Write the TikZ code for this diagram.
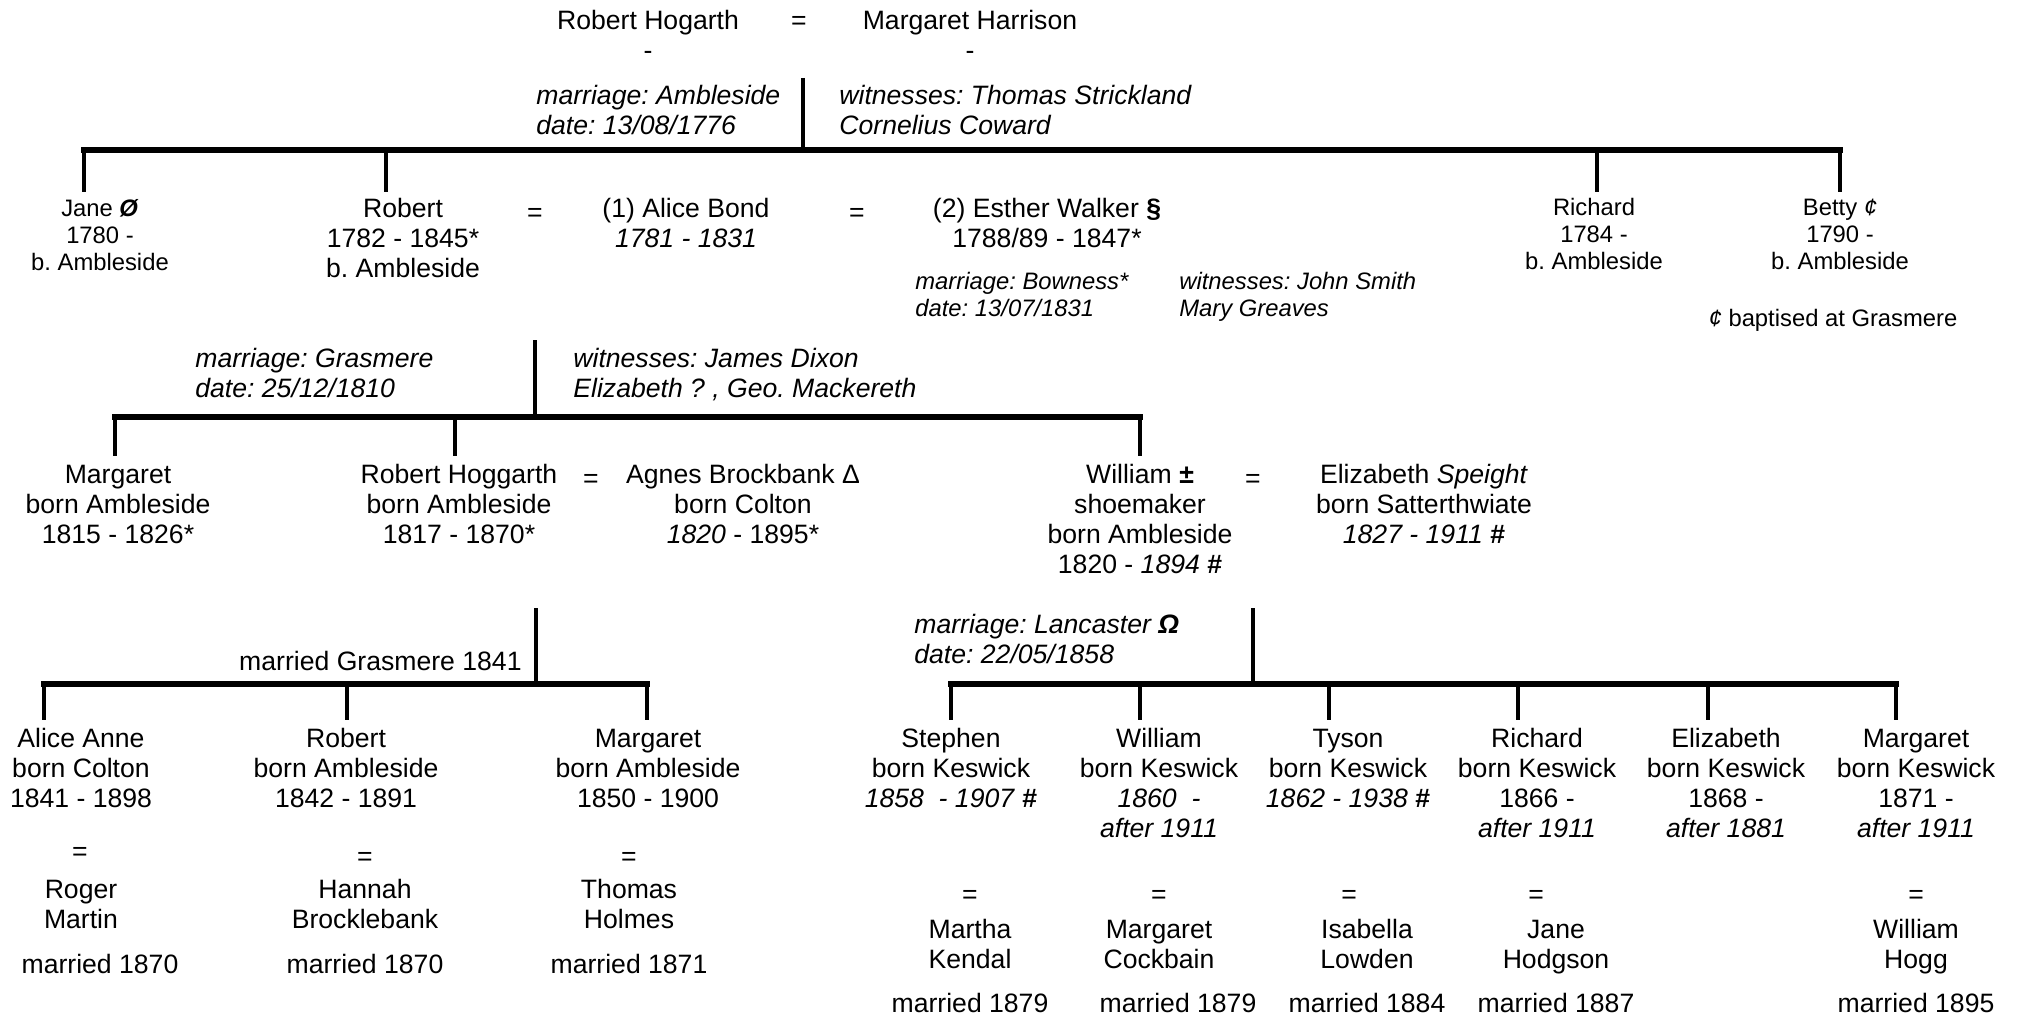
\documentclass[tikz,border=0pt]{standalone}
\usepackage{fontspec}
\setmainfont{Liberation Sans}
\frenchspacing
\newcommand{\nsz}{\fontsize{13.3pt}{15pt}\selectfont}
\newcommand{\ssz}{\fontsize{11.9pt}{13.3pt}\selectfont}
\newcommand{\ctab}[1]{\begin{tabular}[t]{@{}c@{}}#1\end{tabular}}
\newcommand{\ltab}[1]{\begin{tabular}[t]{@{}l@{}}#1\end{tabular}}
\tikzset{
  lbl/.style={inner sep=0pt, anchor=base, font=\nsz},
  slbl/.style={inner sep=0pt, anchor=base, font=\ssz},
  notelbl/.style={inner sep=0pt, anchor=base west, font=\nsz\itshape},
  snotelbl/.style={inner sep=0pt, anchor=base west, font=\ssz\itshape},
  bar/.style={line width=3pt, line cap=rect},
  drop/.style={line width=2.25pt},
}
\begin{document}
\begin{tikzpicture}[x=0.5pt, y=-0.5pt]
\useasboundingbox (0,0) rectangle (2018,1016);

% ---------- generation 1 ----------
\node[lbl] (rh) at (648,30) {\ctab{Robert Hogarth\\-}};
\node[lbl] (eq0) at (799,30) {=};
\node[lbl] (mh) at (970,30) {\ctab{Margaret Harrison\\-}};
\node[notelbl] (m1) at (536,105) {\ltab{marriage: Ambleside\\date: 13/08/1776}};
\node[notelbl] (w1) at (839,105) {\ltab{witnesses: Thomas Strickland\\Cornelius Coward}};

\coordinate (f1top) at (803,78);
\coordinate (f1bar) at (803,150);
\coordinate (f1L) at (84,150);
\coordinate (f1R) at (1840,150);
\coordinate (d1a) at (84,192);
\coordinate (d1b) at (386,192);
\coordinate (d1c) at (1597,192);
\coordinate (d1d) at (1840,192);
\draw[drop] (f1top) -- (f1bar);
\draw[bar] (f1L) -- (f1R);
\foreach \d in {d1a,d1b,d1c,d1d} \draw[drop] (\d |- f1bar) -- (\d);

% ---------- generation 2 ----------
\node[slbl] (jane) at (100,217) {\ctab{Jane \textbf{\textit{Ø}}\\1780 -\\b. Ambleside}};
\node[lbl] (robert2) at (403,218) {\ctab{Robert\\1782 - 1845*\\b. Ambleside}};
\node[lbl] (eq1) at (535,222) {=};
\node[lbl] (alice) at (686,218) {\ctab{(1) Alice Bond\\\textit{1781 - 1831}}};
\node[lbl] (eq2) at (857,222) {=};
\node[lbl] (esther) at (1047,218) {\ctab{(2) Esther Walker \textbf{§}\\1788/89 - 1847*}};
\node[snotelbl] (m2) at (915,290) {\ltab{marriage: Bowness*\\date: 13/07/1831}};
\node[snotelbl] (w2) at (1179,290) {\ltab{witnesses: John Smith\\Mary Greaves}};
\node[slbl] (richard2) at (1594,216) {\ctab{Richard\\1784 -\\b. Ambleside}};
\node[slbl] (betty) at (1840,216) {\ctab{Betty \textit{¢}\\1790 -\\b. Ambleside}};
\node[slbl] (bnote) at (1833,327) {\textit{¢} baptised at Grasmere};

\node[notelbl] (m3) at (195,367) {\ltab{marriage: Grasmere\\date: 25/12/1810}};
\node[notelbl] (w3) at (573,367) {\ltab{witnesses: James Dixon\\Elizabeth ? , Geo. Mackereth}};

\coordinate (f2top) at (535,340);
\coordinate (f2bar) at (535,417);
\coordinate (f2L) at (115,417);
\coordinate (f2R) at (1140,417);
\coordinate (d2a) at (115,456);
\coordinate (d2b) at (455,456);
\coordinate (d2c) at (1140,456);
\draw[drop] (f2top) -- (f2bar);
\draw[bar] (f2L) -- (f2R);
\foreach \d in {d2a,d2b,d2c} \draw[drop] (\d |- f2bar) -- (\d);

% ---------- generation 3 ----------
\node[lbl] (margaret3) at (118,483) {\ctab{Margaret\\born Ambleside\\1815 - 1826*}};
\node[lbl] (rhog) at (459,483) {\ctab{Robert Hoggarth\\born Ambleside\\1817 - 1870*}};
\node[lbl] (eq3) at (591,487) {=};
\node[lbl] (agnes) at (743,483) {\ctab{Agnes Brockbank Δ\\born Colton\\\textit{1820} - 1895*}};
\node[lbl] (william3) at (1140,483) {\ctab{William \textbf{±}\\shoemaker\\born Ambleside\\1820 - \textit{1894} \textbf{\#}}};
\node[lbl] (eq4) at (1253,487) {=};
\node[lbl] (eliz3) at (1424,483) {\ctab{Elizabeth \textit{Speight}\\born Satterthwiate\\\textit{1827 - 1911} \textbf{\#}}};

% family of Robert Hoggarth
\coordinate (f3top) at (536,608);
\coordinate (f3bar) at (536,684);
\coordinate (f3L) at (44,684);
\coordinate (f3R) at (647,684);
\coordinate (d3a) at (44,720);
\coordinate (d3b) at (347,720);
\coordinate (d3c) at (647,720);
\draw[drop] (f3top) -- (f3bar);
\draw[bar] (f3L) -- (f3R);
\foreach \d in {d3a,d3b,d3c} \draw[drop] (\d |- f3bar) -- (\d);
\node[lbl, anchor=base east] (mg1841) at (522,670) {married Grasmere 1841};

% family of William
\node[notelbl] (m4) at (914,633) {\ltab{marriage: Lancaster \textbf{Ω}\\date: 22/05/1858}};
\coordinate (f4top) at (1253,608);
\coordinate (f4bar) at (1253,684);
\coordinate (f4L) at (951,684);
\coordinate (f4R) at (1896,684);
\coordinate (d4a) at (951,720);
\coordinate (d4b) at (1140,720);
\coordinate (d4c) at (1329,720);
\coordinate (d4d) at (1518,720);
\coordinate (d4e) at (1708,720);
\coordinate (d4f) at (1896,720);
\draw[drop] (f4top) -- (f4bar);
\draw[bar] (f4L) -- (f4R);
\foreach \d in {d4a,d4b,d4c,d4d,d4e,d4f} \draw[drop] (\d |- f4bar) -- (\d);

% ---------- generation 4, left ----------
\node[lbl] (alice4) at (81,747) {\ctab{Alice Anne\\born Colton\\1841 - 1898}};
\node[lbl] (robert4) at (346,747) {\ctab{Robert\\born Ambleside\\1842 - 1891}};
\node[lbl] (margaret4) at (648,747) {\ctab{Margaret\\born Ambleside\\1850 - 1900}};
\node[lbl] (eq5) at (80,860) {=};
\node[lbl] (eq6) at (365,865) {=};
\node[lbl] (eq7) at (629,865) {=};
\node[lbl] (roger) at (81,898) {\ctab{Roger\\Martin}};
\node[lbl] (hannah) at (365,898) {\ctab{Hannah\\Brocklebank}};
\node[lbl] (thomas) at (629,898) {\ctab{Thomas\\Holmes}};
\node[lbl] (mar1) at (100,973) {married 1870};
\node[lbl] (mar2) at (365,973) {married 1870};
\node[lbl] (mar3) at (629,973) {married 1871};

% ---------- generation 4, right ----------
\node[lbl] (stephen) at (951,747) {\ctab{Stephen\\born Keswick\\\textit{1858\ \ - 1907} \textbf{\#}}};
\node[lbl] (william4) at (1159,747) {\ctab{William\\born Keswick\\\textit{1860\ \ -}\\\textit{after 1911}}};
\node[lbl] (tyson) at (1348,747) {\ctab{Tyson\\born Keswick\\\textit{1862 - 1938} \textbf{\#}}};
\node[lbl] (richard4) at (1537,747) {\ctab{Richard\\born Keswick\\1866 -\\\textit{after 1911}}};
\node[lbl] (elizabeth4) at (1726,747) {\ctab{Elizabeth\\born Keswick\\1868 -\\\textit{after 1881}}};
\node[lbl] (margaret5) at (1916,747) {\ctab{Margaret\\born Keswick\\1871 -\\\textit{after 1911}}};

\node[lbl] (eq8) at (970,903) {=};
\node[lbl] (eq9) at (1159,903) {=};
\node[lbl] (eq10) at (1349,903) {=};
\node[lbl] (eq11) at (1536,903) {=};
\node[lbl] (eq12) at (1916,903) {=};

\node[lbl] (martha) at (970,938) {\ctab{Martha\\Kendal}};
\node[lbl] (mcock) at (1159,938) {\ctab{Margaret\\Cockbain}};
\node[lbl] (isabella) at (1367,938) {\ctab{Isabella\\Lowden}};
\node[lbl] (jane5) at (1556,938) {\ctab{Jane\\Hodgson}};
\node[lbl] (whogg) at (1916,938) {\ctab{William\\Hogg}};

\node[lbl] (mar4) at (970,1012) {married 1879};
\node[lbl] (mar5) at (1178,1012) {married 1879};
\node[lbl] (mar6) at (1367,1012) {married 1884};
\node[lbl] (mar7) at (1556,1012) {married 1887};
\node[lbl] (mar8) at (1916,1012) {married 1895};
\end{tikzpicture}
\end{document}
